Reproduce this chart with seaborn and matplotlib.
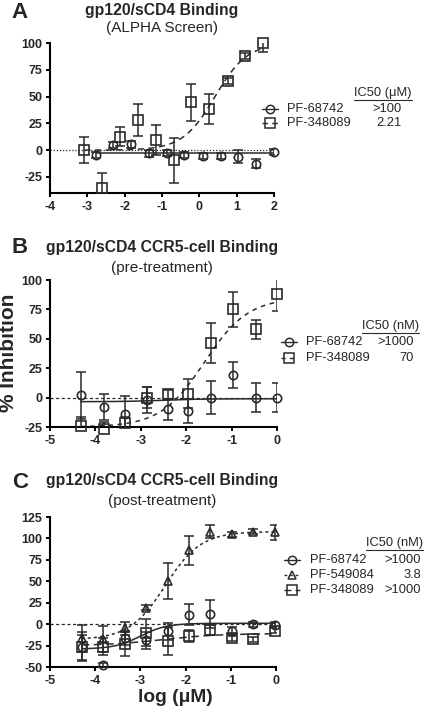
import numpy as np
import matplotlib
matplotlib.use("Agg")
import matplotlib.pyplot as plt
from matplotlib.lines import Line2D
import seaborn as sns

# ---- Panel A: ALPHA screen (log uM) ----
a_x_68742 = [-2.78, -2.30, -1.83, -1.35, -0.87, -0.40, 0.09, 0.57, 1.04, 1.52, 2.00]
a_y_68742 = [-4.7, 4.7, 5.3, -3.0, -2.5, -4.7, -5.3, -5.3, -6.2, -12.5, -1.5]
a_e_68742 = [3, 3, 3, 3, 3, 3, 3, 3, 6, 4, 3]
a_x_348089 = [-3.08, -2.60, -2.12, -1.65, -1.17, -0.68, -0.21, 0.27, 0.76, 1.22, 1.71]
a_y_348089 = [0.0, -35.8, 12.5, 28.0, 9.3, -9.3, 44.6, 38.3, 64.5, 87.9, 99.7]
a_e_348089 = [12, 14, 9, 15, 14, 21, 17, 14, 3, 3, 8]
# fit parameters: bottom, top, logIC50, hill
a_fit_68742 = [-3.0, -3.0, 0.0, 1.0]
a_fit_348089 = [0.0, 100.0, 0.42, 1.0]

# ---- Panel B: pre-treatment ----
b_x = [-4.32, -3.80, -3.34, -2.87, -2.40, -1.95, -1.45, -0.96, -0.46, 0.00]
b_y_68742 = [2.0, -8.0, -13.6, -2.3, -10.0, -11.4, 0.0, 19.0, 0.0, 0.0]
b_e_68742 = [20, 11, 15, 11, 9, 10, 14, 11, 12, 12]
b_y_348089 = [-24.4, -26.4, -21.6, 0.0, 2.8, 3.4, 46.6, 75.0, 58.0, 88.0]
b_e_348089 = [8, 6, 5, 9, 4, 12, 17, 15, 8, 14]
b_fit_68742 = [-3.5, -1.0, -2.5, 1.0]
b_fit_348089 = [-25.0, 85.0, -1.6, 0.9]

# ---- Panel C: post-treatment ----
c_x = [-4.30, -3.82, -3.35, -2.87, -2.39, -1.93, -1.46, -0.97, -0.50, -0.02]
c_y_68742 = [-27.2, -48.0, -16.5, -19.0, -8.5, 11.0, 11.7, -7.8, 0.0, -0.8]
c_e_68742 = [15, 3, 8, 10, 10, 12, 16, 4, 3, 3]
c_y_549084 = [-16.7, -17.5, -5.0, 19.4, 50.5, 86.3, 108.0, 105.0, 107.7, 107.0]
c_e_549084 = [16, 15, 8, 3, 21, 17, 8, 3, 3, 9]
c_y_348089 = [-26.4, -26.4, -23.3, -9.8, -19.5, -13.6, -7.0, -16.3, -17.5, -7.8]
c_e_348089 = [17, 10, 14, 16, 16, 7, 6, 3, 3, 3]
c_fit_68742 = [-29.0, 1.0, -3.0, 1.5]
c_fit_549084 = [-18.0, 108.0, -2.45, 1.1]
c_fit_348089 = [-25.0, -11.0, -2.5, 0.7]

INK = "#2a2a2a"
W, H = 425, 712


def fx(px):
    return px / W


def fy(py):
    return 1 - py / H


def logistic(x, bottom, top, log_ic50, hill):
    return bottom + (top - bottom) / (1 + 10 ** ((log_ic50 - x) * hill))


def draw_series(ax, x, y, err, fit, marker, ms, ls):
    xx = np.linspace(min(x), max(x), 200)
    sns.lineplot(x=xx, y=logistic(xx, *fit), ax=ax, color=INK, lw=1.1,
                 linestyle=ls, zorder=2)
    ax.errorbar(x, y, yerr=err, fmt="none", ecolor=INK, elinewidth=1.1,
                capsize=3.4, capthick=1.1, zorder=3)
    ax.plot(x, y, ls="none", marker=marker, ms=ms, mfc="none", mec=INK,
            mew=1.2, zorder=4, clip_on=False)


def style_axis(ax, xlim, ylim, xticks, yticks, zero_ls):
    ax.axhline(0, color=INK, lw=0.9, ls=zero_ls, zorder=1)
    ax.set_xlim(xlim)
    ax.set_ylim(ylim)
    ax.set_xticks(xticks)
    ax.set_yticks(yticks)
    ax.set_xlabel("")
    ax.set_ylabel("")
    for lab in ax.get_xticklabels() + ax.get_yticklabels():
        lab.set_fontweight("bold")
        lab.set_fontsize(9)
    ax.tick_params(direction="out", length=3, width=1.4, color="black", pad=2.5)
    sns.despine(ax=ax)
    for s in ["left", "bottom"]:
        ax.spines[s].set_linewidth(1.5)
        ax.spines[s].set_color("black")


def legend(fig, header, hx, hy, rows, mx, tx, vx):
    t = fig.text(fx(hx), fy(hy), header, fontsize=9.3, ha="left", va="center")
    r = fig.canvas.get_renderer()
    bb = t.get_window_extent(r)
    uy = fy(hy + 7)
    fig.add_artist(Line2D([bb.x0 / fig.bbox.width, bb.x1 / fig.bbox.width], [uy, uy],
                          transform=fig.transFigure, color=INK, lw=0.8))
    for (name, value, marker, ms, ls, ry) in rows:
        fig.add_artist(Line2D([fx(mx - 8), fx(mx), fx(mx + 8)], [fy(ry)] * 3,
                              transform=fig.transFigure, color=INK, lw=1.0, ls=ls,
                              marker=marker, markevery=[1], ms=ms, mfc="none",
                              mec=INK, mew=1.1))
        fig.text(fx(tx), fy(ry), name, fontsize=9.3, ha="left", va="center")
        fig.text(fx(vx), fy(ry), value, fontsize=9.3, ha="right", va="center")


sns.set_theme(style="ticks")
plt.rcParams["font.family"] = ["Liberation Sans", "DejaVu Sans"]
plt.rcParams["axes.unicode_minus"] = False

fig = plt.figure(figsize=(W / 100, H / 100), dpi=100)
fig.patch.set_facecolor("white")

solid = "-"
dash = (0, (4, 3))
dot = (0, (2, 2))

# Panel A
axA = fig.add_axes([fx(50), fy(193), fx(274) - fx(50), fy(43) - fy(193)])
draw_series(axA, a_x_68742, a_y_68742, a_e_68742, a_fit_68742, "o", 6, solid)
draw_series(axA, a_x_348089, a_y_348089, a_e_348089, a_fit_348089, "s", 6.6, dash)
style_axis(axA, (-4, 2), (-40, 100), range(-4, 3), [-25, 0, 25, 50, 75, 100],
           (0, (1, 1.5)))

# Panel B
axB = fig.add_axes([fx(50), fy(427), fx(277) - fx(50), fy(280) - fy(427)])
draw_series(axB, b_x, b_y_68742, b_e_68742, b_fit_68742, "o", 6, solid)
draw_series(axB, b_x, b_y_348089, b_e_348089, b_fit_348089, "s", 6.6, (0, (3, 3)))
style_axis(axB, (-5, 0), (-25, 100), range(-5, 1), [-25, 0, 25, 50, 75, 100],
           (0, (2.5, 2)))

# Panel C
axC = fig.add_axes([fx(50), fy(667), fx(276) - fx(50), fy(517) - fy(667)])
draw_series(axC, c_x, c_y_68742, c_e_68742, c_fit_68742, "o", 6, solid)
draw_series(axC, c_x, c_y_549084, c_e_549084, c_fit_549084, "^", 6.3, dot)
draw_series(axC, c_x, c_y_348089, c_e_348089, c_fit_348089, "s", 6.6, (0, (5, 3)))
style_axis(axC, (-5, 0), (-50, 125), range(-5, 1),
           [-50, -25, 0, 25, 50, 75, 100, 125], (0, (2.5, 2)))

# titles and panel letters
for letter, ly, title, ty, sub, sy in [
    ("A", 12, "gp120/sCD4 Binding", 11, "(ALPHA Screen)", 28),
    ("B", 247, "gp120/sCD4 CCR5-cell Binding", 247, "(pre-treatment)", 268),
    ("C", 482, "gp120/sCD4 CCR5-cell Binding", 481, "(post-treatment)", 501),
]:
    fig.text(fx(20), fy(ly), letter, fontsize=16, fontweight="bold",
             ha="center", va="center")
    fig.text(fx(162), fy(ty), title, fontsize=11.3, fontweight="bold",
             ha="center", va="center")
    fig.text(fx(162), fy(sy), sub, fontsize=11, ha="center", va="center")

fig.text(fx(9), fy(353), "% Inhibition", fontsize=15, fontweight="bold",
         rotation=90, ha="center", va="center")
fig.text(fx(175), fy(697), "log (μM)", fontsize=13.8, fontweight="bold",
         ha="center", va="center")

legend(fig, "IC50 (μM)", 354, 93, [
    ("PF-68742", ">100", "o", 6, solid, 109),
    ("PF-348089", "2.21", "s", 6.6, dash, 123),
], mx=270, tx=287, vx=402)

legend(fig, "IC50 (nM)", 362, 326, [
    ("PF-68742", ">1000", "o", 6, solid, 342),
    ("PF-348089", "70", "s", 6.6, (0, (3, 3)), 358),
], mx=289, tx=306, vx=414)

legend(fig, "IC50 (nM)", 366, 543, [
    ("PF-68742", ">1000", "o", 6, solid, 560),
    ("PF-549084", "3.8", "^", 6.3, dot, 575),
    ("PF-348089", ">1000", "s", 6.6, (0, (5, 3)), 590),
], mx=292, tx=310, vx=421)

fig.savefig("out.png", dpi=100, facecolor="white")
